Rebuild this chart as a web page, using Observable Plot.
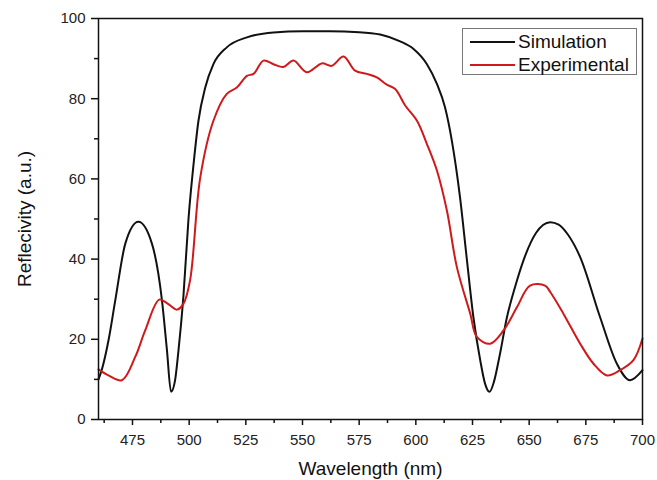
<!DOCTYPE html>
<html><head><meta charset="utf-8">
<script src="https://cdn.jsdelivr.net/npm/d3@7"></script>
<script src="https://cdn.jsdelivr.net/npm/@observablehq/plot@0.6"></script>
<style>
body{margin:0;background:#fff;font-family:"Liberation Sans",Arial,sans-serif;}
#wrap{position:relative;width:657px;height:480px;}
#legend{position:absolute;left:462px;top:28px;width:175px;height:47px;border:1px solid #777;background:#fff;box-sizing:border-box;font-size:19px;color:#111;}
.row{position:absolute;left:7px;height:22px;display:flex;align-items:center;}
.sw{width:45px;height:2px;margin-right:3px;}
</style></head>
<body><div id="wrap"><div id="chart"></div>
<div id="legend">
<div class="row" style="top:2px"><div class="sw" style="background:#111"></div><span>Simulation</span></div>
<div class="row" style="top:25px"><div class="sw" style="background:#d0191b"></div><span>Experimental</span></div>
</div></div>
<script>
const simX = [460,461.5,464.4,467.4,471.8,477.6,483.6,488,490.2,492,493.7,495.3,497.5,499.7,502,504.1,507.1,510.7,516.6,525.5,537.2,550,562,575,584.3,593.1,599,604.9,609.3,612.9,615.9,619.5,622.5,625.4,628.4,630.5,632.5,634.5,637,640.2,644,647.5,653,659.3,663,667,672.5,681.3,688.7,694.5,700];
const simY = [10,12.5,19.7,29.7,43.8,49.3,43.8,29.7,17.3,6.9,9.5,17.3,31,50,64,74.5,82.8,88.6,92.8,95.3,96.5,96.8,96.8,96.6,96.0,94.3,92.4,88.6,83.7,77.8,69.5,55.4,40,25.5,14.8,9,6.9,9.5,16,25.5,33.5,39.7,46.5,49.2,48.6,46.2,40.5,25.5,13.9,9.8,12.3];
const expX = [460,464.4,470.3,476.2,480.6,486.8,490.5,494.6,497.5,500.4,504.9,510.7,516.6,521,525.5,528.4,532.8,537.2,541.6,546,551.9,558.5,562.9,568.1,573.2,578.4,582.8,587.2,590.9,595.3,600.5,604.9,609.3,613.7,618.1,624,626.9,632.8,638.7,644.6,650.4,657,659.3,665.1,672.5,678.4,684.3,690.1,696,700];
const expY = [12.5,11,9.8,15.6,22.2,29.9,28.9,27.4,28.9,34.7,60.4,74.5,81.2,82.8,85.7,86.2,89.5,88.6,87.9,89.5,86.6,88.8,88.2,90.5,87,86.2,85.3,83.5,82.4,78.3,74.5,68.7,62.1,52.1,38,26.4,20.6,18.9,22.2,28,33.4,33.4,31.8,26.4,18.9,13.9,11,12.3,14.8,20.2];
const xTicks = [475,500,525,550,575,600,625,650,675,700];
const xMinor = [462.5,487.5,512.5,537.5,562.5,587.5,612.5,637.5,662.5,687.5];
const yTicks = [0,20,40,60,80,100];
const yMinor = [10,30,50,70,90];
const sim = simX.map((x,i)=>({x,y:simY[i]}));
const exp = expX.map((x,i)=>({x,y:expY[i]}));
const chart = Plot.plot({
  width:657, height:480,
  marginLeft:98, marginRight:15, marginTop:18, marginBottom:61,
  style:{fontFamily:"Liberation Sans, Arial, sans-serif", fontSize:"15px", color:"#222", background:"#fff"},
  x:{domain:[460,700]},
  y:{domain:[0,100]},
  marks:[
    Plot.line(sim,{x:"x",y:"y",stroke:"#111",strokeWidth:2,curve:"monotone-x"}),
    Plot.line(exp,{x:"x",y:"y",stroke:"#d0191b",strokeWidth:2,curve:"catmull-rom"}),
    Plot.frame({stroke:"#111",strokeWidth:1.5}),
    Plot.axisX({ticks:xTicks,tickSize:6,tickPadding:9,label:null,stroke:"#111",strokeWidth:1.5}),
    Plot.axisX({ticks:xMinor,tickSize:4,text:null,label:null,stroke:"#111",strokeWidth:1.5}),
    Plot.axisY({ticks:yTicks,tickSize:7,tickPadding:6,label:null,stroke:"#111",strokeWidth:1.5}),
    Plot.axisY({ticks:yMinor,tickSize:4,text:null,label:null,stroke:"#111",strokeWidth:1.5}),
    Plot.text(["Wavelength (nm)"],{frameAnchor:"bottom",lineAnchor:"middle",dy:49,fontSize:19,fill:"#111"}),
    Plot.text(["Reflecivity (a.u.)"],{frameAnchor:"left",textAnchor:"middle",lineAnchor:"middle",dx:-74,rotate:-90,fontSize:19,fill:"#111"})
  ]
});
document.getElementById("chart").appendChild(chart);
</script></body></html>
